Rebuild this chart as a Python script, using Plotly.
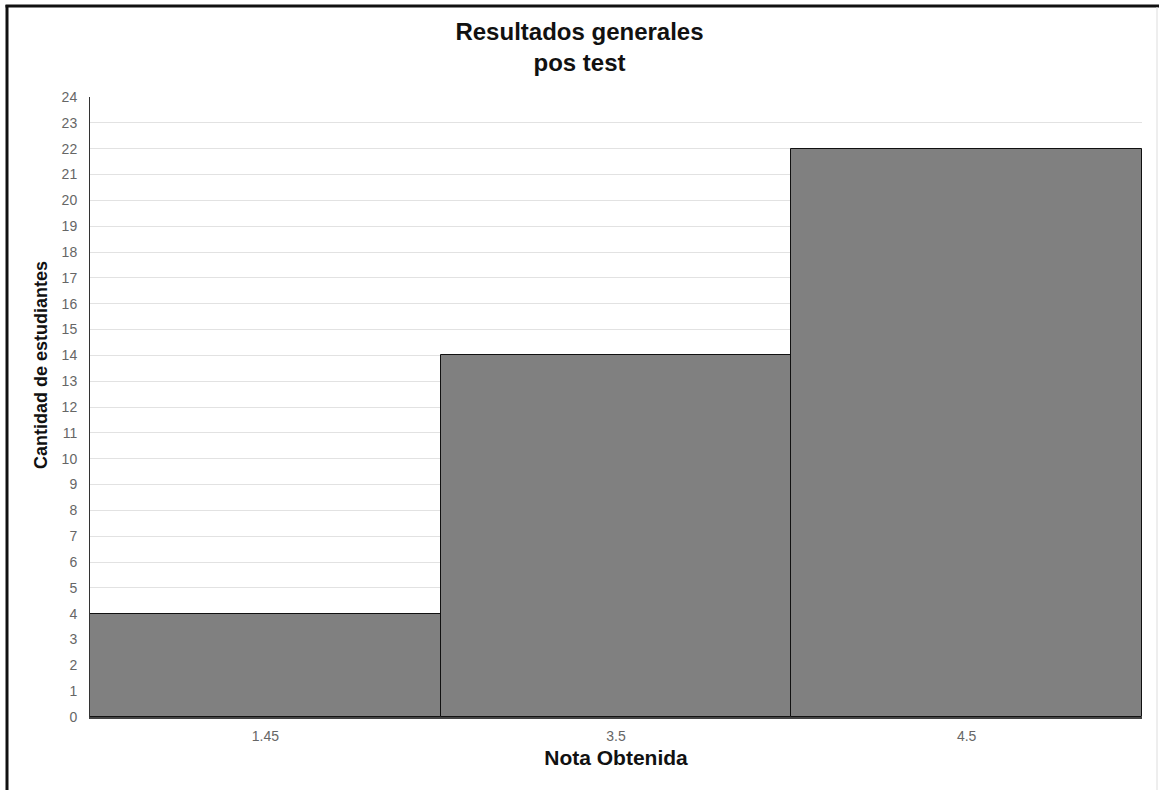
import plotly.graph_objects as go

# Histogram of post-test grades
notas = ["1.45", "3.5", "4.5"]
cantidad = [4, 14, 22]
y_ticks = list(range(0, 25))

W, H = 1159, 790
L, R, T, B = 90, 17, 97, 73
pw, ph = W - L - R, H - T - B


def px_x(x):
    return (x - L) / pw


def px_y(y):
    return (H - B - y) / ph


fig = go.Figure(
    go.Bar(
        x=notas,
        y=cantidad,
        marker=dict(color="#808080", line=dict(color="#111111", width=1)),
        hoverinfo="x+y",
    )
)

fig.update_layout(
    width=W,
    height=H,
    margin=dict(l=L, r=R, t=T, b=B),
    paper_bgcolor="white",
    plot_bgcolor="white",
    bargap=0,
    showlegend=False,
    font=dict(family="Liberation Sans, Arial, sans-serif", color="#666666"),
    title=dict(
        text="<b>Resultados generales<br>pos test</b>",
        x=0.5,
        xanchor="center",
        xref="container",
        y=1 - 40 / H,
        yanchor="top",
        yref="container",
        font=dict(size=24, color="#111111"),
    ),
    xaxis=dict(
        type="category",
        showgrid=False,
        showline=True,
        linecolor="#444444",
        linewidth=2,
        ticks="outside",
        ticklen=5,
        tickcolor="rgba(0,0,0,0)",
        tickfont=dict(size=14, color="#666666"),
        title=dict(
            text="<b>Nota Obtenida</b>",
            font=dict(size=21, color="#111111"),
            standoff=8,
        ),
    ),
    yaxis=dict(
        range=[0, 24],
        tickvals=y_ticks,
        showgrid=True,
        gridcolor="#e2e2e2",
        gridwidth=1,
        zeroline=False,
        showline=True,
        linecolor="#333333",
        linewidth=1,
        ticks="outside",
        ticklen=9,
        tickcolor="rgba(0,0,0,0)",
        tickfont=dict(size=14, color="#666666"),
    ),
    annotations=[
        dict(
            text="<b>Cantidad de estudiantes</b>",
            textangle=-90,
            xref="paper", yref="paper",
            x=px_x(41), y=px_y(365),
            xanchor="center", yanchor="middle",
            showarrow=False,
            font=dict(size=18, color="#111111"),
        )
    ],
    shapes=[
        # outer frame: left and top edges
        dict(type="line", xref="paper", yref="paper",
             x0=px_x(7), x1=px_x(7), y0=px_y(5), y1=px_y(H + 5),
             line=dict(color="#111111", width=3)),
        dict(type="line", xref="paper", yref="paper",
             x0=px_x(5.5), x1=px_x(W + 5), y0=px_y(6), y1=px_y(6),
             line=dict(color="#111111", width=3)),
        dict(type="line", xref="paper", yref="paper",
             x0=px_x(1157), x1=px_x(1157), y0=px_y(7), y1=px_y(H + 5),
             line=dict(color="#dddddd", width=1)),
    ],
)

fig.write_html("out.html")
